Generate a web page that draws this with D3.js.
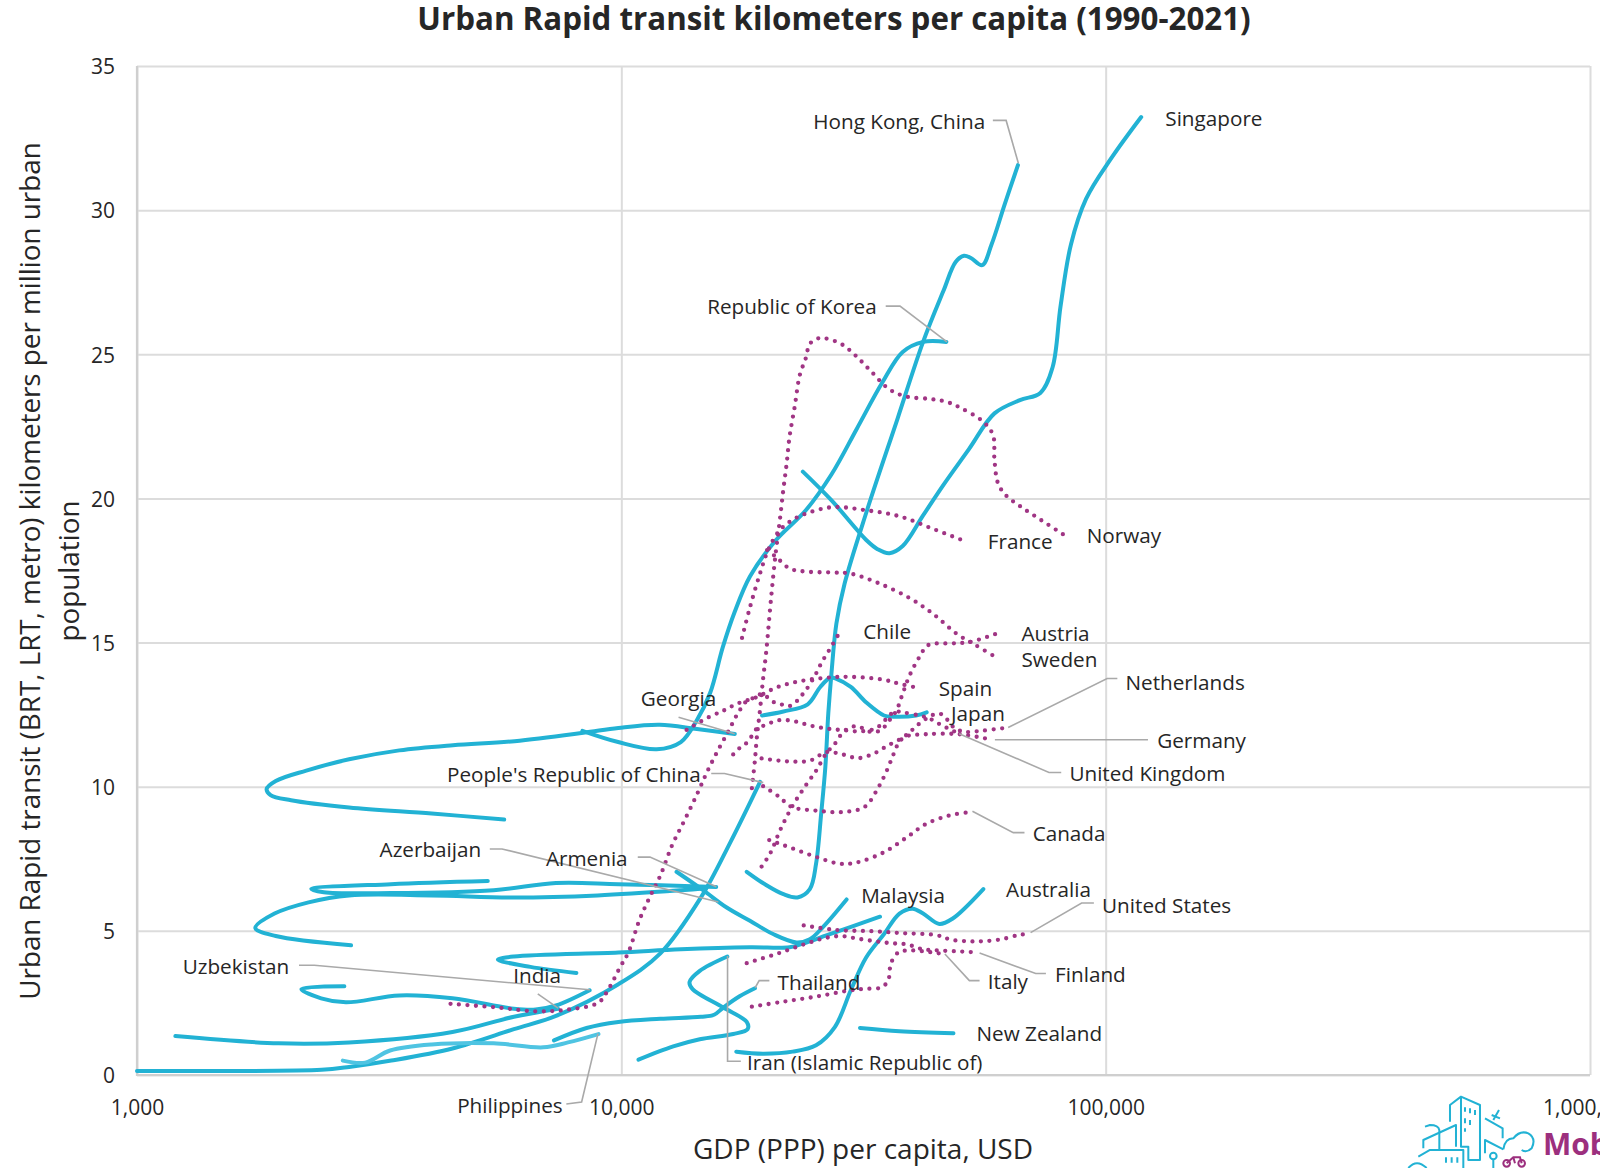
<!DOCTYPE html>
<html><head><meta charset="utf-8">
<script src="https://cdn.jsdelivr.net/npm/d3@7/dist/d3.min.js"></script>
<style>html,body{margin:0;padding:0;background:#fff;overflow:hidden}svg{display:block}text{font-family:"Open Sans",sans-serif;fill:#262626}</style>
</head><body><svg id="c" width="1600" height="1168"></svg>
<script>
// ---------- data: GDP (PPP) per capita, USD / km per million urban population
const hongKongGdp=[18150,19900,21610,23100,24500,25240,25860,26380,26750,27150,27800,28900,32160,37200,41980,46250,49000,51000,52700,55600,58100,61870,65900];
const hongKongVal=[7.05,6.59,6.27,6.16,6.45,7.33,9.07,10.7,12.54,13.92,15.66,17.04,19.59,22.78,25.43,27.2,28.2,28.42,28.34,28.09,28.8,30.2,31.56];
const singaporeGdp=[23700,27140,32160,33800,35770,38100,41980,46250,52210,58940,66530,73300,77700,80700,84760,91100,102800,118400];
const singaporeVal=[20.93,19.94,18.53,18.24,18.1,18.35,19.41,20.47,21.71,22.95,23.41,23.66,24.55,26.67,28.8,30.39,31.81,33.23];
const koreaGdp=[8310,9850,11830,13270,14300,15250,16200,17130,18430,20800,24040,27150,30640,34580,38100,41980,46900];
const koreaVal=[11.94,11.55,11.3,11.55,12.29,13.25,14.84,16.05,17.29,18.53,19.59,20.83,22.42,24.02,25.08,25.43,25.43];
const georgiaGdp=[5730,4060,2741,2080,1887,1852,1934,2236,2741,3480,4490,6020,8350,9860,12000,14330,17150];
const georgiaVal=[8.86,9.07,9.28,9.53,9.71,9.92,10.2,10.56,10.95,11.26,11.44,11.58,11.87,12.04,12.15,12,11.83];
const armeniaGdp=[5300,3343,2290,2430,3343,5450,7330,9860,15700];
const armeniaVal=[6.73,6.62,6.45,6.34,6.31,6.41,6.66,6.62,6.52];
const azerbaijanGdp=[2767,1934,1755,1923,2260,2741,4060,6000,8930,13270,14940];
const azerbaijanVal=[4.5,4.82,5.1,5.6,5.99,6.23,6.23,6.16,6.23,6.41,6.48];
const malaysiaGdp=[13000,14750,16500,18430,20580,23000,24500,26100,29180];
const malaysiaVal=[7.05,6.41,5.81,5.35,4.89,4.6,4.71,5.14,6.09];
const otherAsiaGdp=[8075,6490,5560,6000,9860,13270,18430,22250,23800,26590,34200];
const otherAsiaVal=[3.54,3.75,4,4.11,4.25,4.36,4.43,4.43,4.57,4.85,5.49];
const iranGdp=[10850,12800,14520,17030,18230,18150,16240,14030,13830,14520,16550];
const iranVal=[0.53,0.99,1.24,1.42,1.59,1.84,2.34,2.98,3.22,3.61,4.11];
const thailandGdp=[7260,8476,9860,12040,14600,15544,16240,17546,18870];
const thailandVal=[1.2,1.63,1.84,1.95,2.02,2.09,2.34,2.73,3.01];
const australiaGdp=[17270,19600,22580,25240,27590,29770,32000,34870,37520,39950,41980,45350,48250,55900];
const australiaVal=[0.81,0.74,0.81,1.03,1.66,2.94,4.07,4.89,5.6,5.77,5.6,5.24,5.42,6.45];
const newZealandGdp=[31100,37520,48500];
const newZealandVal=[1.63,1.52,1.45];
const chileCyanGdp=[19520,21610,24260,25750,27000,27800,29770,32000,34870,36450,40600,42700];
const chileCyanVal=[12.47,12.61,12.86,13.46,13.78,13.74,13.46,12.93,12.47,12.43,12.47,12.58];
const chinaGdp=[1000,1554,2405,2741,3350,4480,6000,7330,9860,12040,14600,16800,19340];
const chinaVal=[0.14,0.14,0.18,0.28,0.5,0.92,1.59,2.05,3.15,4.22,6.16,8.08,10.17];
const indiaGdp=[1200,1960,2741,4480,6000,7400];
const indiaVal=[1.35,1.1,1.13,1.49,2.02,2.3];
const uzbekistanGdp=[2680,2185,2400,2700,3480,4480,6000,6653,7330,8600];
const uzbekistanVal=[3.08,2.98,2.66,2.52,2.76,2.66,2.3,2.27,2.41,2.94];
const philippinesGdp=[2660,2960,3330,4060,5450,6900,7760,8970];
const philippinesVal=[0.5,0.43,0.85,1.06,1.1,0.96,1.13,1.42];

const norwayGdp=[18600,18870,19050,19330,19620,19900,20390,20830,21240,21600,21950,22250,22800,23360,24040,24500,25470,26430,28490,30390,32770,35780,38870,43400,46950,50300,55780,58530,58940,59950,62300,66850,73700,81600];
const norwayVal=[9.95,10.91,11.73,12.65,13.74,14.63,16.58,18.1,19.23,20.3,21.22,22.14,23.18,24.28,24.87,25.36,25.55,25.55,25.35,24.97,24.41,23.78,23.53,23.45,23.35,23.13,22.67,22.2,21.33,20.52,20.1,19.71,19.24,18.76];
const franceGdp=[17750,18430,19330,20100,21200,22650,24500,27400,32000,37520,43900,51500];
const franceVal=[15.16,16.22,17.39,18.21,18.88,19.27,19.52,19.7,19.59,19.38,18.95,18.5];
const swedenGdp=[20000,20900,22250,24100,27400,29770,34200,39400,43900,49300,53900,59900];
const swedenVal=[18.21,17.96,17.57,17.46,17.43,17.39,17.04,16.54,16.01,15.3,14.91,14.45];
const austriaGdp=[19480,20300,21260,22470,23910,25280,26500,27600,28900,30600,32770,34320,35800,37000,38100,39400,41300,43000,48400,52460,60000];
const austriaVal=[7.23,7.69,8.48,9.28,9.99,10.57,11.16,11.49,11.94,12.1,11.9,11.96,12.31,12.65,13.23,13.87,14.51,14.91,14.97,15.02,15.33];
const canadaGdp=[20200,21640,25280,28200,30600,34800,38900,42600,47530,52460];
const canadaVal=[8.15,7.97,7.56,7.33,7.37,7.72,8.25,8.71,9,9.12];
const germanyGdp=[19620,21100,22470,25280,28490,31800,33970,35250,36400,37300,38500,42600,49950,58530];
const germanyVal=[10.02,9.67,9.3,9.17,9.12,9.3,9.99,10.52,11.09,11.49,11.73,11.82,11.82,11.62];
const netherlandsGdp=[19480,21050,22740,24560,26500,28620,30850,33300,35600,38100,39800,40980,42600,43700,45350,46700,47830,49300,51200,55300,62100];
const netherlandsVal=[10.98,10.91,10.87,10.91,11.2,11.12,10.99,11.16,11.44,11.7,11.96,12.15,12.36,12.47,12.54,12.4,12.16,11.99,11.9,11.94,12.04];
const ukGdp=[17020,17546,18120,18600,19100,19620,21200,22900,24700,26750,28780,31300,33670,35600,36650,38100,41200,42800,44500,46000,47830,49750];
const ukVal=[11.12,11.34,11.51,11.76,12.04,12.11,12.31,12.26,12.11,12.01,11.96,11.92,12.04,12.43,12.61,12.58,12.47,12.4,12.26,12.11,11.99,11.83];
const spainGdp=[13640,15100,16300,17400,19050,20900,23360,26500,29770,34800,37500,40700];
const spainVal=[11.97,12.4,12.65,12.89,13.11,13.44,13.66,13.78,13.81,13.71,13.57,13.44];
const chileGdp=[4440,5560,6653,7760,8970,9380,9950,10340,10890,11440,12040,12730,13500,14350,15040,15830,16680,17450,18230,19050,19480,20590,21370,22150,22900,23500,24100,25100,26000,27100,28200];
const chileVal=[2.47,2.34,2.21,2.27,2.51,2.94,3.75,4.25,5.36,6.16,6.92,7.97,8.83,9.76,10.52,11.26,11.96,12.58,13,13.11,13.23,12.94,12.86,12.79,12.93,13.14,13.37,13.85,14.35,14.84,15.34];
const usGdp=[23800,27800,32700,38100,44800,48000,52000,56000,61000,65900,68400];
const usVal=[5.19,5.03,4.99,4.92,4.85,4.69,4.64,4.64,4.71,4.85,4.89];
const finlandGdp=[18150,21100,24500,26500,28490,30700,33400,36100,38870,41980,45350,49300,53000];
const finlandVal=[3.88,4.22,4.6,4.76,4.82,4.73,4.64,4.57,4.53,4.36,4.32,4.29,4.26];
const italyGdp=[18600,21700,25470,29770,32050,34320,35550,35800,36000,37300,38870,41980,45300];
const italyVal=[2.37,2.55,2.73,2.94,2.99,3.03,3.26,3.58,3.86,4.25,4.32,4.29,4.22];

const xTicks=[1000,10000,100000,1000000];
const yTicks=[0,5,10,15,20,25,30,35];

const solidSeries=[[chinaGdp,chinaVal],[indiaGdp,indiaVal],[uzbekistanGdp,uzbekistanVal],[thailandGdp,thailandVal],[iranGdp,iranVal],[australiaGdp,australiaVal],[newZealandGdp,newZealandVal],[chileCyanGdp,chileCyanVal],[otherAsiaGdp,otherAsiaVal],[malaysiaGdp,malaysiaVal],[azerbaijanGdp,azerbaijanVal],[armeniaGdp,armeniaVal],[georgiaGdp,georgiaVal],[koreaGdp,koreaVal],[singaporeGdp,singaporeVal],[hongKongGdp,hongKongVal]];
const lightSeries=[[philippinesGdp,philippinesVal]];
const dottedSeries=[[norwayGdp,norwayVal],[franceGdp,franceVal],[swedenGdp,swedenVal],[austriaGdp,austriaVal],[canadaGdp,canadaVal],[germanyGdp,germanyVal],[netherlandsGdp,netherlandsVal],[ukGdp,ukVal],[spainGdp,spainVal],[chileGdp,chileVal],[usGdp,usVal],[finlandGdp,finlandVal],[italyGdp,italyVal]];

const labelNames=["Hong Kong, China","Singapore","Republic of Korea","Norway","France","Chile","Austria","Sweden","Spain","Japan","Netherlands","Germany","United Kingdom","Canada","Australia","United States","Malaysia","Finland","Italy","Thailand","New Zealand","Iran (Islamic Republic of)","Georgia","People's Republic of China","Azerbaijan","Armenia","Uzbekistan","India","Philippines"];
// ---------- layout (annotation positions, in page pixels of the 1568-wide view)
const k=1600/1568;
const labelPos=[[797,119],[1142,116],[693,300],[1065,525],[968,531],[846,619],[1001,621],[1001,646],[920,675],[932,699],[1103,669],[1134,726],[1048,758],[1012,817],[986,872],[1080,887],[844,878],[1034,955],[968,962],[762,963],[957,1013],[732,1041],[628,685],[438,759],[372,833],[535,841],[179,947],[503,956],[448,1083]];
const leaders=[
 [[973,118],[986,118],[998,160]],[[868,300],[882,300],[928,335]],[[988,713],[1085,665],[1095,665]],[[975,725],[1125,725]],
 [[940,719],[1028,757],[1040,757]],[[953,795],[993,816],[1004,816]],[[1010,914],[1060,885],[1072,885]],[[960,934],[1015,954],[1025,954]],
 [[926,935],[950,961],[960,961]],[[740,968],[744,961],[754,961]],[[713,937],[713,1040],[726,1040]],[[665,703],[720,719]],
 [[697,758],[710,758],[748,767]],[[480,832],[492,832],[704,884]],[[625,840],[637,840],[702,869]],[[293,946],[308,946],[578,970]],
 [[527,974],[547,988]],[[555,1082],[570,1080],[586,1013]]];

const svg=d3.select("#c");
const plotL=137,plotR=1590,plotT=66,plotB=1075;
const x=d3.scaleLog().domain([1000,1000000]).range([plotL,plotR]);
const y=d3.scaleLinear().domain([0,35]).range([plotB,plotT]);

// grid + axes
const gy=svg.append("g").attr("transform",`translate(${plotL},0)`).call(d3.axisLeft(y).tickValues(yTicks).tickSize(-(plotR-plotL)).tickFormat(d3.format("d")));
const gx=svg.append("g").attr("transform",`translate(0,${plotB})`).call(d3.axisBottom(x).tickValues(xTicks).tickSize(-(plotB-plotT)).tickFormat(d3.format(",")));
[gy,gx].forEach(g=>{g.select(".domain").remove();g.selectAll("line").attr("stroke","#dcdcdc").attr("stroke-width",2);g.selectAll("text").style("font-size","21px").attr("fill","#262626");});
gy.selectAll("text").attr("x",-22).attr("dy","0.37em");
gx.selectAll("text").attr("y",0).attr("dy","1em").attr("transform","translate(0,19)");
svg.append("path").attr("d",`M${plotL},${plotT}V${plotB}H${plotR}`).attr("fill","none").attr("stroke","#cfcfcf").attr("stroke-width",2.2);

const line=d3.line().x(d=>x(d[0])).y(d=>y(d[1])).curve(d3.curveCatmullRom.alpha(0.5));
const pts=s=>s[0].map((g,i)=>[g,s[1][i]]);
const plot=svg.append("g").attr("fill","none").attr("stroke-linecap","round").attr("stroke-linejoin","round");
plot.selectAll(".solid").data(solidSeries).join("path").attr("class","solid").attr("d",s=>line(pts(s))).attr("stroke","#22b2d4").attr("stroke-width",4);
plot.selectAll(".light").data(lightSeries).join("path").attr("class","light").attr("d",s=>line(pts(s))).attr("stroke","#4fc4e2").attr("stroke-width",4);
plot.selectAll(".dot").data(dottedSeries).join("path").attr("class","dot").attr("d",s=>line(pts(s))).attr("stroke","#a03584").attr("stroke-width",4.3).attr("stroke-dasharray","0 8.5");

svg.append("g").attr("fill","none").attr("stroke","#a9a9a9").attr("stroke-width",1.6).selectAll("path").data(leaders).join("path")
 .attr("d",d=>"M"+d.map(p=>[p[0]*k,p[1]*k].join(",")).join("L"));

svg.append("g").selectAll("text").data(labelNames).join("text").text(d=>d)
 .attr("x",(d,i)=>labelPos[i][0]*k).attr("y",(d,i)=>labelPos[i][1]*k).attr("dy","0.36em").style("font-size","20.7px");

svg.append("text").text("Urban Rapid transit kilometers per capita (1990-2021)").attr("x",834).attr("y",19).attr("dy","0.35em").attr("text-anchor","middle").style("font-size","31.3px").style("font-weight",700);
svg.append("text").text("GDP (PPP) per capita, USD").attr("x",863).attr("y",1149).attr("dy","0.35em").attr("text-anchor","middle").style("font-size","28px");
const yt=svg.append("text").attr("transform","translate(30,571) rotate(-90)").attr("text-anchor","middle").style("font-size","27.8px");
yt.append("tspan").attr("x",0).attr("y",0).attr("dy","0.35em").text("Urban Rapid transit (BRT, LRT, metro) kilometers per million urban");
yt.append("tspan").attr("x",0).attr("y",39).attr("dy","0.35em").text("population");

// logo
const logo=svg.append("g").attr("transform","translate(1350,1050) scale(0.3333)").attr("fill","none").attr("stroke","#22b2d4").attr("stroke-width",6).attr("stroke-linejoin","round");
["M300 215V165L333 140L390 165V330H355V290H333V140","M220 295V270L318 225V290","M268 300V240Q265 225 240 225L225 230","M175 354Q200 325 230 354","M205 320L240 300H340V354",
 "M345 172V185M360 175V190M375 180V195M345 205V220M360 210V225M345 235V245","M288 322V338M305 322V338M322 322V338",
 "M405 205L458 235V265M430 210L447 180M425 195L450 205","M405 310V270L460 298","M460 298Q465 265 490 265Q510 240 535 250Q560 265 545 295Q530 310 515 300","M430 330V354"]
 .forEach(d=>logo.append("path").attr("d",d));
logo.append("circle").attr("cx",430).attr("cy",318).attr("r",10);
const bike=svg.append("g").attr("transform","translate(1350,1050) scale(0.3333)").attr("fill","none").attr("stroke","#9c2f7e").attr("stroke-width",6);
bike.append("circle").attr("cx",470).attr("cy",340).attr("r",10);bike.append("circle").attr("cx",515).attr("cy",340).attr("r",10);
bike.append("path").attr("d","M470 340L490 322H510L515 340M490 322L495 340");
svg.append("text").text("Mob").attr("x",1543).attr("y",1155).style("font-size","30px").style("font-weight",700).style("fill","#9c2f7e");
</script></body></html>
